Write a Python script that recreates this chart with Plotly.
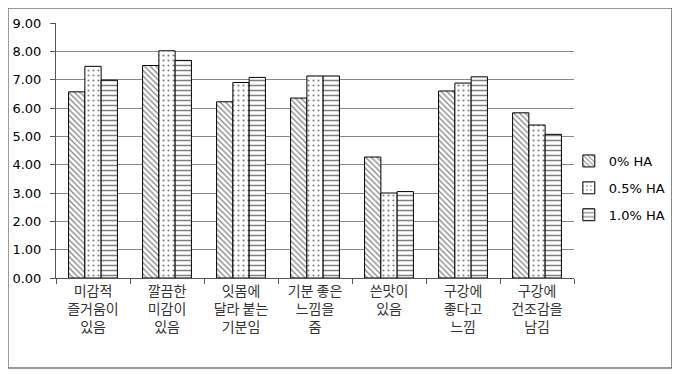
import plotly.graph_objects as go

categories = ["미감적<br>즐거움이<br>있음", "깔끔한<br>미감이<br>있음", "잇몸에<br>달라 붙는<br>기분임",
              "기분 좋은<br>느낌을<br>줌", "쓴맛이<br>있음", "구강에<br>좋다고<br>느낌", "구강에<br>건조감을<br>남김"]
series_names = ["0% HA", "0.5% HA", "1.0% HA"]
values_0 = [6.57, 7.50, 6.22, 6.35, 4.27, 6.60, 5.83]
values_05 = [7.47, 8.02, 6.90, 7.13, 3.00, 6.88, 5.40]
values_10 = [6.98, 7.68, 7.08, 7.13, 3.05, 7.10, 5.07]
tick_vals = [0, 1, 2, 3, 4, 5, 6, 7, 8, 9]

patterns = ["\\", ".", "-"]
fig = go.Figure()
for i, (name, vals) in enumerate(zip(series_names, [values_0, values_05, values_10])):
    fig.add_trace(go.Bar(
        x=categories, y=vals, name=name, legendgroup=name,
        marker=dict(color="white", line=dict(color="black", width=1),
                    pattern=dict(shape=patterns[i], fgcolor="black", bgcolor="white",
                                 size=4 if i == 0 else 5, solidity=0.3 if i != 1 else 0.15)),
    ))

fig.update_layout(
    width=680, height=374,
    margin=dict(l=48, r=114, t=15, b=104, autoexpand=False),
    paper_bgcolor="white", plot_bgcolor="white",
    barmode="group", bargap=0.34, bargroupgap=0,
    font=dict(family="DejaVu Sans", size=12, color="black"),
    showlegend=True,
    legend=dict(x=0.99, y=0.353, xanchor="left", yanchor="middle",
                traceorder="grouped", tracegroupgap=7, bgcolor="rgba(0,0,0,0)",
                font=dict(family="DejaVu Sans", size=13), itemwidth=30),
    xaxis=dict(showline=True, linecolor="#555", linewidth=1, ticks="outside", tickson="boundaries",
               ticklen=5, tickcolor="#555", automargin=False,
               tickfont=dict(family="Noto Sans CJK KR", size=14, color="#333")),
    yaxis=dict(range=[0, 9], tickvals=tick_vals, tickformat=".2f", showgrid=True,
               gridcolor="#888", gridwidth=1, showline=True, linecolor="#555", linewidth=1,
               ticks="outside", ticklen=5, tickcolor="#555", zeroline=False, automargin=False,
               ticklabelstandoff=6,
               tickfont=dict(family="DejaVu Sans", size=13)),
    shapes=[dict(type="rect", xref="paper", yref="paper", x0=-0.0927, x1=1.189, y0=-0.353, y1=1.0588,
                 line=dict(color="#777", width=1.5), fillcolor="rgba(0,0,0,0)")],
)

fig.write_html("out.html")
